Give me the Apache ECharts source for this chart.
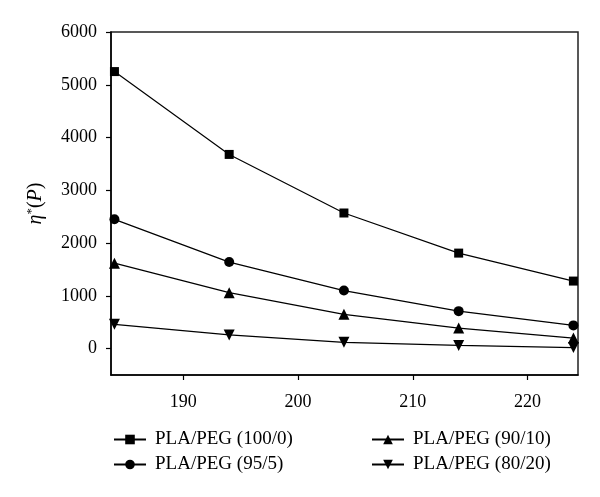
<!DOCTYPE html>
<html>
<head>
<meta charset="utf-8">
<script src="https://cdn.jsdelivr.net/npm/echarts@6/dist/echarts.min.js"></script>
<style>
	html, body { margin: 0; padding: 0; background: #fff; }
	#main { width: 600px; height: 497px; }
</style>
</head>
<body>
<div id="main"></div>
<script>
// temperatures (x) and complex viscosity of each blend
var temps = [184, 194, 204, 214, 224];
var pla100 = [5250, 3680, 2570, 1810, 1280];
var pla95 = [2450, 1640, 1100, 710, 440];
var pla90 = [1620, 1060, 650, 390, 200];
var pla80 = [460, 260, 120, 60, 20];

var names = ['PLA/PEG (100/0)', 'PLA/PEG (95/5)', 'PLA/PEG (90/10)', 'PLA/PEG (80/20)'];
var xTicks = [190, 200, 210, 220];
var yTicks = [0, 1000, 2000, 3000, 4000, 5000, 6000];

var font = 'Liberation Serif';

function pairs(vals) {
	var out = [];
	for (var i = 0; i < temps.length; i++) {
		out.push([temps[i], vals[i]]);
	}
	return out;
}

function makeSeries(name, vals, symbol, size, rotate) {
	return {
		name : name,
		type : 'line',
		data : pairs(vals),
		symbol : symbol,
		symbolSize : size,
		symbolRotate : rotate || 0,
		lineStyle : { color : '#000', width : 1.2 },
		itemStyle : { color : '#000' },
		emphasis : { disabled : true },
		z : 3
	};
}

var myChart = echarts.init(document.getElementById('main'));

var legendBase = {
	orient : 'vertical',
	itemWidth : 32,
	itemHeight : 12,
	itemGap : 6,
	textStyle : { fontFamily : font, fontSize : 19, color : '#000', lineHeight : 19, padding : [0, 0, 0, 4] }
};

var option = {
	animation : false,
	backgroundColor : '#fff',
	grid : {
		left : 111,
		top : 32,
		right : 22,
		bottom : 122,
		show : true,
		borderColor : '#222',
		borderWidth : 1.5
	},
	legend : [
		Object.assign({}, legendBase, { left : 108, top : 425, data : [names[0], names[1]] }),
		Object.assign({}, legendBase, { left : 366, top : 425, data : [names[2], names[3]] })
	],
	xAxis : {
		type : 'value',
		min : 183.7,
		max : 224.4,
		axisLine : { onZero : false, lineStyle : { color : '#000', width : 1.5 } },
		axisTick : { customValues : xTicks, length : 5, lineStyle : { color : '#000', width : 1.2 } },
		axisLabel : { customValues : xTicks, color : '#000', fontFamily : font, fontSize : 18, margin : 18 },
		splitLine : { show : false }
	},
	yAxis : {
		type : 'value',
		min : -500,
		max : 6000,
		name : '{i|η}{s|*}({i|P})',
		nameLocation : 'middle',
		nameGap : 64,
		nameRotate : 90,
		nameTextStyle : {
			fontFamily : font,
			fontSize : 20,
			color : '#000',
			rich : {
				i : { fontFamily : font, fontSize : 20, fontStyle : 'italic', color : '#000' },
				s : { fontFamily : font, fontSize : 13, color : '#000', padding : [0, 0, 9, 0] }
			}
		},
		axisLine : { onZero : false, lineStyle : { color : '#000', width : 1.5 } },
		axisTick : { customValues : yTicks, length : 5, lineStyle : { color : '#000', width : 1.2 } },
		axisLabel : {
			customValues : yTicks,
			color : '#000',
			fontFamily : font,
			fontSize : 18,
			margin : 14,
			formatter : function(v) { return String(v); }
		},
		splitLine : { show : false }
	},
	series : [
		makeSeries(names[0], pla100, 'rect', 9),
		makeSeries(names[1], pla95, 'circle', 10),
		makeSeries(names[2], pla90, 'triangle', 11),
		makeSeries(names[3], pla80, 'triangle', 11, 180)
	]
};
myChart.setOption(option);
</script>
</body>
</html>
